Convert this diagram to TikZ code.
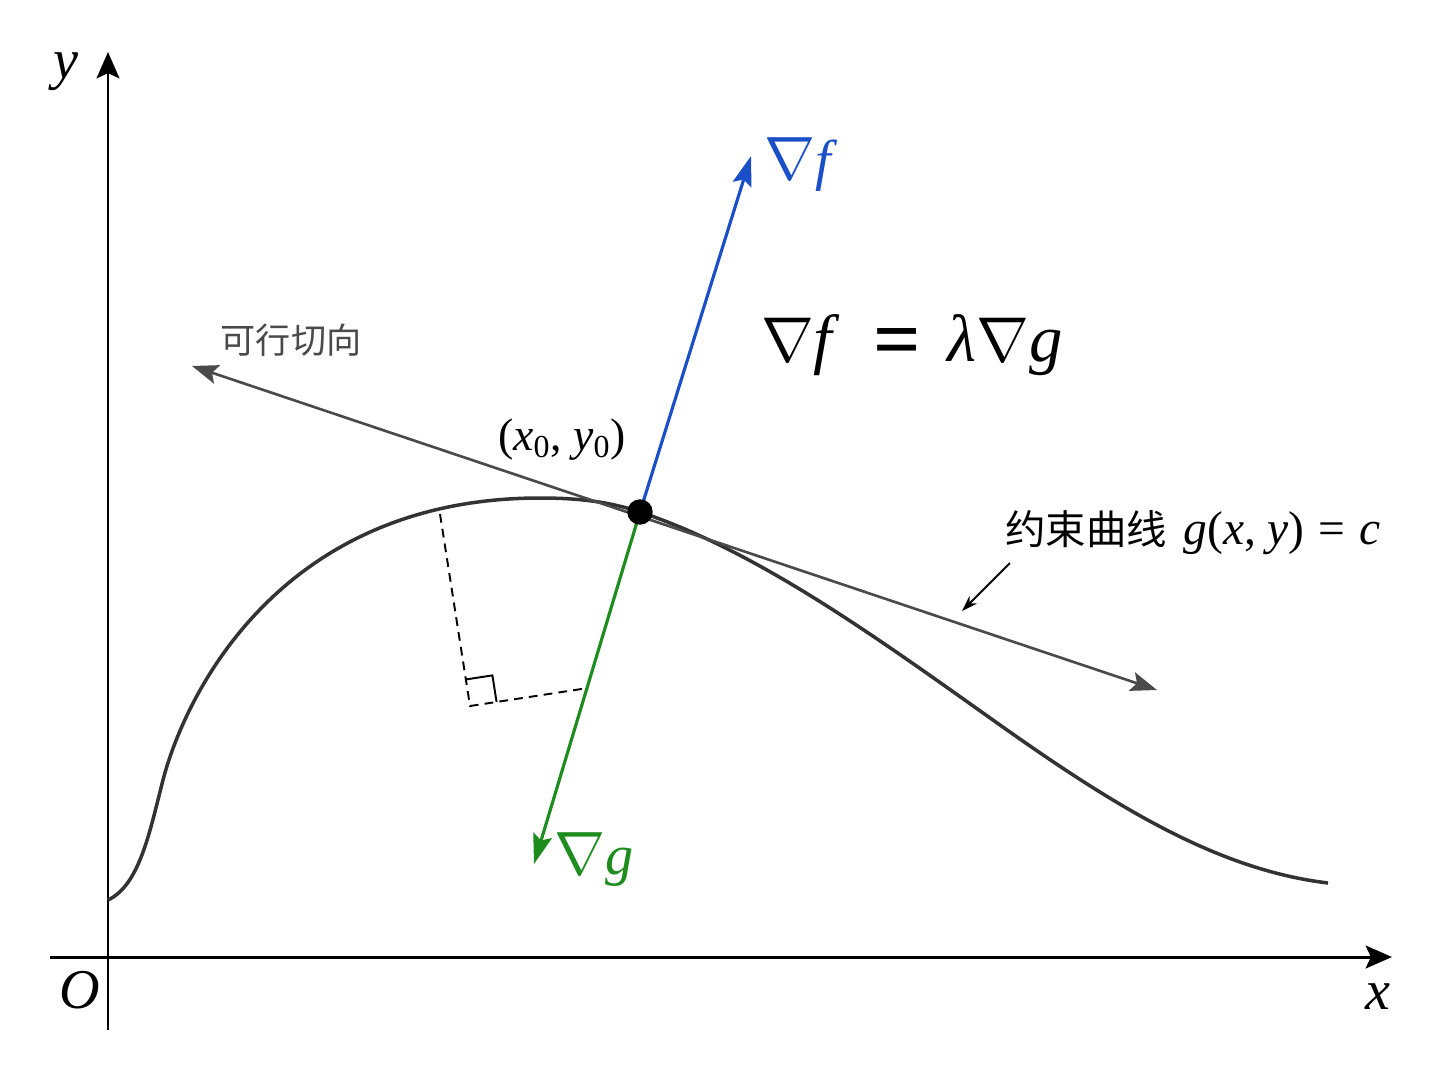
\documentclass[tikz,border=0pt]{standalone}
\usepackage{fontspec}
\setmainfont{Liberation Serif}
\newfontfamily\cjk{Noto Sans CJK SC}
\usetikzlibrary{arrows.meta,calc}
\definecolor{curvegray}{HTML}{333333}
\definecolor{tangray}{HTML}{4A4A4A}
\definecolor{gradblue}{HTML}{1A4FC8}
\definecolor{gradgreen}{HTML}{1E8C1E}
\newcommand{\nb}[1]{\scalebox{#1}{$\nabla$}}
\begin{document}
\begin{tikzpicture}[x=0.02cm,y=-0.02cm,
  axis/.style={line width=1.7pt,black,-{Stealth[length=15pt,width=13pt,inset=3pt]}},
  curvestyle/.style={line width=2pt,curvegray},
  tanline/.style={line width=1.5pt,tangray,{Stealth[length=15pt,width=11pt,inset=3pt]}-{Stealth[length=15pt,width=11pt,inset=3pt]}},
  gradarrow/.style={line width=1.8pt,-{Stealth[length=17pt,width=11pt,inset=3pt]}},
  dashline/.style={line width=1.1pt,black,dash pattern=on 5pt off 3.5pt},
  lbl/.style={inner sep=0pt}]
\useasboundingbox (0,0) rectangle (1448,1086);
% axes
\coordinate (ybot) at (108,1030);
\coordinate (ytop) at (108,52);
\coordinate (xleft) at (50,957);
\coordinate (xright) at (1392,957);
\draw[axis] (ybot) -- (ytop);
\draw[axis] (xleft) -- (xright);
\node[lbl,font=\fontsize{32}{32}\selectfont\itshape] (ylab) at (66,72) {y};
\node[lbl,font=\fontsize{32}{32}\selectfont\itshape] (olab) at (80,990) {O};
\node[lbl,font=\fontsize{32}{32}\selectfont\itshape] (xlab) at (1378,997) {x};
% constraint curve
\coordinate (P) at (640,512);
\draw[curvestyle] (108,900) .. controls (140,885) and (150,830) .. (163,780)
  .. controls (185,695) and (280,498) .. (540,498)
  .. controls (580,498) and (610,502) .. (P)
  .. controls (760,552) and (880,640) .. (1000,725)
  .. controls (1120,810) and (1220,870) .. (1328,883);
% dashed right-angle construction
\coordinate (A) at (440,514);
\coordinate (C) at (470,706);
\coordinate (F) at (588,688);
\draw[dashline] (A) -- (C) -- (F);
\coordinate (m1) at ($(C)!15.3pt!(A)$);
\coordinate (m2) at ($(C)!15.3pt!(F)$);
\draw[line width=1.1pt,black] (m1) -- ($(m1)+(m2)-(C)$) -- (m2);
% tangent direction
\coordinate (T1) at (192,366);
\coordinate (T2) at (1157,690);
\draw[tanline] (T1) -- (T2);
% gradients
\coordinate (Gf) at (751,156);
\coordinate (Gg) at (534,864);
\draw[gradarrow,gradblue] (P) -- (Gf);
\draw[gradarrow,gradgreen] (P) -- (Gg);
% point
\node[circle,fill=black,inner sep=0pt,minimum size=14.5pt] (Pdot) at (P) {};
% short pointer arrow
\coordinate (s1) at (1010,563);
\coordinate (s2) at (962,611);
\draw[line width=1.1pt,black,-{Stealth[length=9pt,width=6pt]}] (s1) -- (s2);
% labels
\node[lbl,font=\fontsize{32}{32}\selectfont,text=gradblue] (nf) at (801,165) {\nb{1.4}\textit{f}};
\node[lbl,font=\fontsize{32}{32}\selectfont,text=gradgreen] (ng) at (594,860) {\nb{1.4}\textit{g}};
\node[lbl,font=\fontsize{38}{38}\selectfont] (eq) at (912,345) {\nb{1.45}\textit{f}\hspace{0.5em}\raisebox{-0.09em}{\scalebox{1.25}{\bfseries =}}\hspace{0.4em}\textit{λ}\nb{1.45}\textit{g}};
\node[lbl,font=\fontsize{26}{26}\selectfont] (pt) at (562,440) {(\textit{x}\textsubscript{0}, \textit{y}\textsubscript{0})};
\node[lbl,font=\fontsize{20}{20}\selectfont\cjk,text=tangray] (feas) at (291,340) {可行切向};
\node[lbl,anchor=west,font=\fontsize{27}{27}\selectfont] (cons) at (1005,533) {{\cjk\fontsize{23}{23}\selectfont 约束曲线}\hspace{0.35em}\textit{g}(\textit{x}, \textit{y})\hspace{0.3em}=\hspace{0.3em}\textit{c}};
\end{tikzpicture}
\end{document}
